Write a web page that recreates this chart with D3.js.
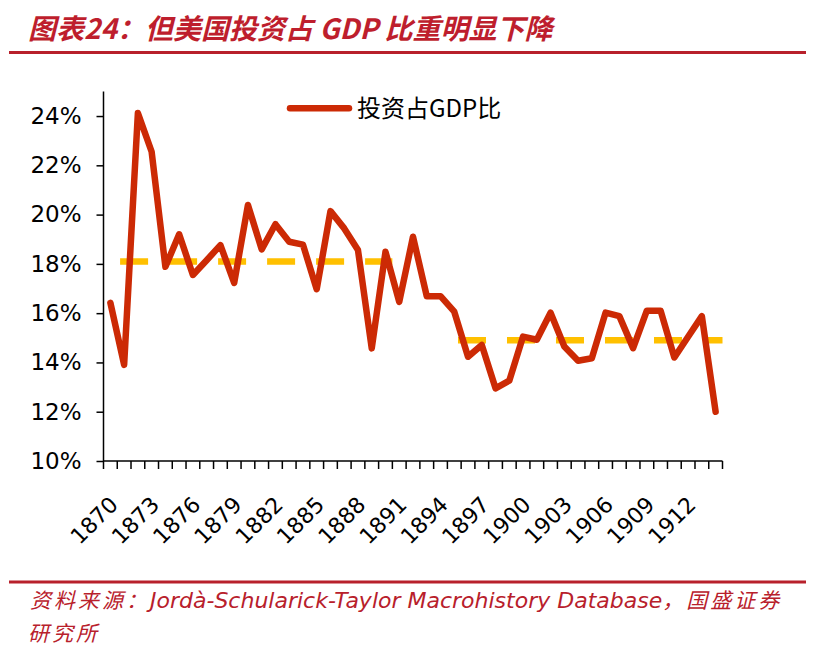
<!DOCTYPE html>
<html>
<head>
<meta charset="utf-8">
<script src="https://cdn.jsdelivr.net/npm/d3@7/dist/d3.min.js"></script>
<style>
  html, body { margin: 0; padding: 0; background: #fff; }
  svg { display: block; }
</style>
</head>
<body>
<svg id="chart" width="817" height="653"></svg>
<script>
// ---------- data ----------
const years = d3.range(1870, 1915);
const investmentShare = [
  16.42, 13.90, 24.12, 22.55, 17.88, 19.20, 17.55, 18.15, 18.76, 17.23,
  20.39, 18.59, 19.61, 18.90, 18.78, 16.97, 20.14, 19.44, 18.56, 14.57,
  18.49, 16.46, 19.10, 16.69, 16.69, 16.06, 14.23, 14.71, 12.95, 13.26,
  15.05, 14.92, 16.02, 14.65, 14.07, 14.17, 16.02, 15.88, 14.58, 16.10,
  16.10, 14.20, 15.04, 15.88, 12.00
];
const meanStartYears = [1870, 1895];
const meanEndYears = [1890, 1914];
const meanValues = [18.1, 14.9];
const yTickValues = [10, 12, 14, 16, 18, 20, 22, 24];
const xLabelYears = d3.range(1870, 1915, 3);
const seriesName = "投资占GDP比";
const titleText = "图表24：但美国投资占 GDP 比重明显下降";
const sourceParts = ["资料来源：", "Jordà-Schularick-Taylor Macrohistory Database", "，国盛证券"];
const sourceLine2 = "研究所";

// ---------- layout ----------
const W = 817, H = 653;
const plot = { left: 103.5, right: 722.5, top: 91.4, bottom: 461 };
const red = "#CC2A05";
const gold = "#FFC000";
const titleRed = "#BE1E2D";
const srcRed = "#B8202B";

const svg = d3.select("#chart");
svg.append("rect").attr("width", W).attr("height", H).attr("fill", "#fff");

const x = d3.scaleBand().domain(years).range([plot.left, plot.right]).padding(0);
const y = d3.scaleLinear().domain([10, 25]).range([plot.bottom, plot.top]);
const cx = yr => x(yr) + x.bandwidth() / 2;

// title
svg.append("text")
  .attr("x", 28).attr("y", 39)
  .attr("font-family", "'Noto Sans CJK SC', 'Noto Sans', sans-serif")
  .attr("font-weight", "bold")
  .attr("font-style", "italic")
  .attr("font-size", 28)
  .attr("fill", titleRed)
  .text(titleText);

svg.append("line")
  .attr("x1", 9).attr("x2", 806).attr("y1", 52.5).attr("y2", 52.5)
  .attr("stroke", srcRed).attr("stroke-width", 3);

// y axis
const yAxis = d3.axisLeft(y).tickValues(yTickValues)
  .tickFormat(d => d + "%").tickSize(7).tickPadding(15);
const gy = svg.append("g").attr("transform", `translate(${plot.left},0)`).call(yAxis);
gy.select(".domain").attr("d", `M-0,${plot.top}V${plot.bottom}`).attr("stroke", "#000").attr("stroke-width", 1.5);
gy.selectAll(".tick line").attr("stroke", "#000").attr("stroke-width", 1.5);
gy.selectAll(".tick text")
  .attr("font-family", "'DejaVu Sans', Verdana, sans-serif")
  .attr("font-size", 23).attr("fill", "#000");

// x axis with ticks at band boundaries
const gx = svg.append("g").attr("transform", `translate(0,${plot.bottom})`);
gx.append("line").attr("x1", plot.left).attr("x2", plot.right)
  .attr("stroke", "#000").attr("stroke-width", 1.5);
const boundaries = years.map(yr => x(yr)).concat([x(years[years.length - 1]) + x.bandwidth()]);
gx.selectAll("line.tk").data(boundaries).join("line").attr("class", "tk")
  .attr("x1", d => d).attr("x2", d => d).attr("y1", 0).attr("y2", 8)
  .attr("stroke", "#000").attr("stroke-width", 1.5);
gx.selectAll("text.lbl").data(xLabelYears).join("text").attr("class", "lbl")
  .attr("transform", d => `translate(${cx(d) + 9},${45}) rotate(-45)`)
  .attr("text-anchor", "end")
  .attr("font-family", "'DejaVu Sans', Verdana, sans-serif")
  .attr("font-size", 22).attr("fill", "#000")
  .text(d => d);

// mean dashed lines
const meanDashOffsets = [32.4, 38.4];
meanValues.forEach((v, i) => {
  svg.append("line")
    .attr("x1", x(meanStartYears[i]))
    .attr("x2", x(meanEndYears[i]) + x.bandwidth())
    .attr("y1", y(v)).attr("y2", y(v))
    .attr("stroke", gold).attr("stroke-width", 6.5)
    .attr("stroke-dasharray", "28 21")
    .attr("stroke-dashoffset", meanDashOffsets[i]);
});

// main line
const line = d3.line().x((d, i) => cx(years[i])).y(d => y(d));
svg.append("path").datum(investmentShare)
  .attr("d", line)
  .attr("fill", "none").attr("stroke", red).attr("stroke-width", 6.5)
  .attr("stroke-linejoin", "round").attr("stroke-linecap", "round");

// legend
svg.append("line").attr("x1", 290).attr("x2", 349).attr("y1", 108.3).attr("y2", 108.3)
  .attr("stroke", red).attr("stroke-width", 6.5).attr("stroke-linecap", "round");
svg.append("text").attr("x", 357).attr("y", 116.5)
  .attr("font-family", "'Noto Sans CJK SC', 'DejaVu Sans', sans-serif")
  .attr("font-size", 24).attr("fill", "#000")
  .text(seriesName);

// source
svg.append("line")
  .attr("x1", 9).attr("x2", 806).attr("y1", 582).attr("y2", 582)
  .attr("stroke", srcRed).attr("stroke-width", 3);
const cjkFont = "'Noto Sans CJK SC', sans-serif";
const latFont = "'DejaVu Sans', Verdana, sans-serif";
const src1 = svg.append("text").attr("x", 30).attr("y", 608)
  .attr("font-style", "italic").attr("fill", srcRed);
src1.append("tspan").attr("font-family", cjkFont).attr("font-size", 21)
  .attr("letter-spacing", 3).text(sourceParts[0]);
src1.append("tspan").attr("font-family", latFont).attr("font-size", 22).text(sourceParts[1]);
src1.append("tspan").attr("font-family", cjkFont).attr("font-size", 21)
  .attr("letter-spacing", 3).text(sourceParts[2]);
svg.append("text").attr("x", 28).attr("y", 641)
  .attr("font-style", "italic").attr("fill", srcRed)
  .attr("font-family", cjkFont).attr("font-size", 21)
  .attr("letter-spacing", 3)
  .text(sourceLine2);
</script>
</body>
</html>
